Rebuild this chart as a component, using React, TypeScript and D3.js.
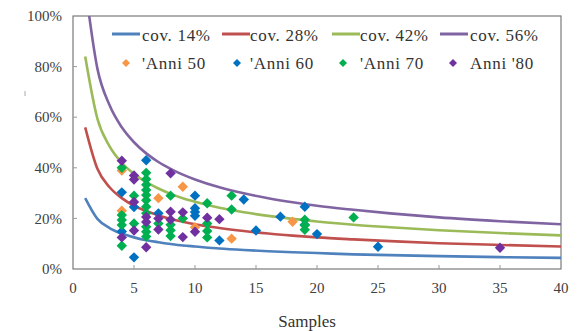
import React from "react";
import * as d3 from "d3";

// ---- data ----
const sampleN = [1, 2, 3, 4, 5, 6, 7, 8, 9, 10, 12, 14, 16, 18, 20, 23, 26, 30, 35, 40];
const cov14 = [28, 19.8, 16.2, 14, 12.5, 11.4, 10.6, 9.9, 9.3, 8.9, 8.1, 7.5, 7.0, 6.6, 6.3, 5.8, 5.5, 5.1, 4.7, 4.4];
const cov28 = [56, 39.6, 32.3, 28, 25.0, 22.9, 21.2, 19.8, 18.7, 17.7, 16.2, 15.0, 14.0, 13.2, 12.5, 11.7, 11.0, 10.2, 9.5, 8.9];
const cov42 = [84, 59.4, 48.5, 42, 37.6, 34.3, 31.8, 29.7, 28, 26.6, 24.2, 22.4, 21, 19.8, 18.8, 17.5, 16.5, 15.3, 14.2, 13.3];
const cov56 = [112, 79.2, 64.7, 56, 50.1, 45.7, 42.3, 39.6, 37.3, 35.4, 32.3, 29.9, 28, 26.4, 25.0, 23.4, 22.0, 20.4, 18.9, 17.7];

const lineNames = ["cov. 14%", "cov. 28%", "cov. 42%", "cov. 56%"];
const lineValues = [cov14, cov28, cov42, cov56];

const anni50: [number, number][] = [[4, 38.9], [4, 23], [7, 28], [9, 32.5], [10, 16.5], [13, 12], [18, 18.7]];
const anni60: [number, number][] = [[4, 30.3], [4, 14.8], [5, 24.5], [5, 4.6], [6, 43], [7, 22], [10, 29], [10, 24], [10, 22.5], [10, 21], [12, 11.3], [14, 27.5], [15, 15.2], [17, 20.7], [19, 24.6], [19, 17.5], [20, 13.8], [25, 8.8]];
const anni70: [number, number][] = [[4, 40], [4, 21.3], [4, 19.4], [4, 17.4], [4, 9.2], [5, 29], [5, 18], [6, 38], [6, 35.5], [6, 33.3], [6, 31.2], [6, 29.2], [6, 27.2], [6, 24.6], [6, 22], [6, 16.7], [6, 14.7], [6, 12.8], [7, 18], [8, 29], [8, 17.5], [8, 15.3], [8, 13], [9, 20], [11, 26], [11, 18], [11, 15], [11, 12.5], [13, 29], [13, 23.5], [19, 19.5], [19, 17.3], [19, 15.5], [23, 20.4]];
const anni80: [number, number][] = [[4, 42.8], [4, 12.5], [5, 37], [5, 35.4], [5, 26.5], [5, 15.2], [6, 20.6], [6, 18.6], [6, 8.6], [7, 20], [7, 15.6], [8, 37.8], [8, 22.6], [8, 19.5], [9, 22.4], [9, 12.6], [10, 14.7], [11, 20.3], [12, 19.7], [35, 8.4]];

const scatterNames = ["'Anni 50", "'Anni 60", "'Anni 70", "Anni '80"];
const scatterValues = [anni50, anni60, anni70, anni80];

const xTicks = [0, 5, 10, 15, 20, 25, 30, 35, 40];
const yTicks = [0, 20, 40, 60, 80, 100];

// ---- styles ----
const lineColors = ["#4F81BD", "#C0504D", "#9BBB59", "#8064A2"];
const markerColors = ["#F79646", "#0070C0", "#00B050", "#7030A0"];
const FONT = "'Liberation Serif', 'Times New Roman', Tinos, 'DejaVu Serif', serif";

const W = 586;
const H = 331;
const L = 73, R = 561, T = 16, B = 269;

function diamond(r: number) {
  return `M0,${-r}L${r},0L0,${r}L${-r},0Z`;
}

export default function App() {
  const x = d3.scaleLinear().domain([0, 40]).range([L, R]);
  const y = d3.scaleLinear().domain([0, 100]).range([B, T]);
  const line = d3
    .line<number>()
    .x((_, i) => x(sampleN[i]))
    .y((d) => y(d))
    .curve(d3.curveMonotoneX);

  const legendLineX = [112, 222, 332, 440];
  const legendTextX = [142, 250, 360, 470];
  const legendMarkX = [126, 237, 343, 453];
  const ts = { fontFamily: FONT };

  return (
    <svg
      width={W}
      height={H}
      style={{ position: "absolute", left: 0, top: 0, background: "#fff", fontFamily: FONT }}
    >
      <defs>
        <clipPath id="plot">
          <rect x={L} y={T} width={R - L} height={B - T} />
        </clipPath>
      </defs>
      <rect x={0} y={0} width={W} height={H} fill="#fff" />
      <rect x={L} y={T} width={R - L} height={B - T} fill="#fff" stroke="#7a7a7a" strokeWidth={1.2} />
      <line x1={25} x2={25} y1={91} y2={96} stroke="#aaa" strokeWidth={1} />

      {/* ticks */}
      {xTicks.slice(1, -1).map((t) => (
        <line key={"xt" + t} x1={x(t)} x2={x(t)} y1={B} y2={B - 4} stroke="#999" />
      ))}
      {yTicks.slice(1, -1).map((t) => (
        <line key={"yt" + t} x1={L} x2={L + 4} y1={y(t)} y2={y(t)} stroke="#999" />
      ))}
      {xTicks.map((t) => (
        <text key={"xl" + t} style={ts} x={x(t)} y={292.5} fontSize={15} textAnchor="middle" fill="#404040">
          {t}
        </text>
      ))}
      {yTicks.map((t) => (
        <text key={"yl" + t} style={ts} x={62} y={y(t)} dy="0.35em" fontSize={15} textAnchor="end" fill="#404040">
          {t + "%"}
        </text>
      ))}
      <text style={ts} x={307} y={327} fontSize={17} textAnchor="middle" fill="#333">
        Samples
      </text>

      {/* curves */}
      <g clipPath="url(#plot)">
        {lineValues.map((vals, i) => (
          <path key={"c" + i} d={line(vals) || ""} fill="none" stroke={lineColors[i]} strokeWidth={2.6} />
        ))}
      </g>

      {/* scatter */}
      {scatterValues.map((pts, si) => (
        <g key={"s" + si} fill={markerColors[si]}>
          {pts.map((p, j) => (
            <path key={j} d={diamond(5.2)} transform={`translate(${x(p[0])},${y(p[1])})`} />
          ))}
        </g>
      ))}

      {/* legend */}
      {lineNames.map((n, i) => (
        <g key={"ll" + i}>
          <line x1={legendLineX[i]} x2={legendLineX[i] + 28} y1={34} y2={34} stroke={lineColors[i]} strokeWidth={3} />
          <text style={ts} x={legendTextX[i]} y={40.5} fontSize={17} letterSpacing={0.7} fill="#333">
            {n}
          </text>
        </g>
      ))}
      {scatterNames.map((n, i) => (
        <g key={"sl" + i}>
          <path d={diamond(4)} transform={`translate(${legendMarkX[i]},63)`} fill={markerColors[i]} />
          <text style={ts} x={legendTextX[i]} y={69} fontSize={17} letterSpacing={0.7} fill="#333">
            {n}
          </text>
        </g>
      ))}
    </svg>
  );
}
